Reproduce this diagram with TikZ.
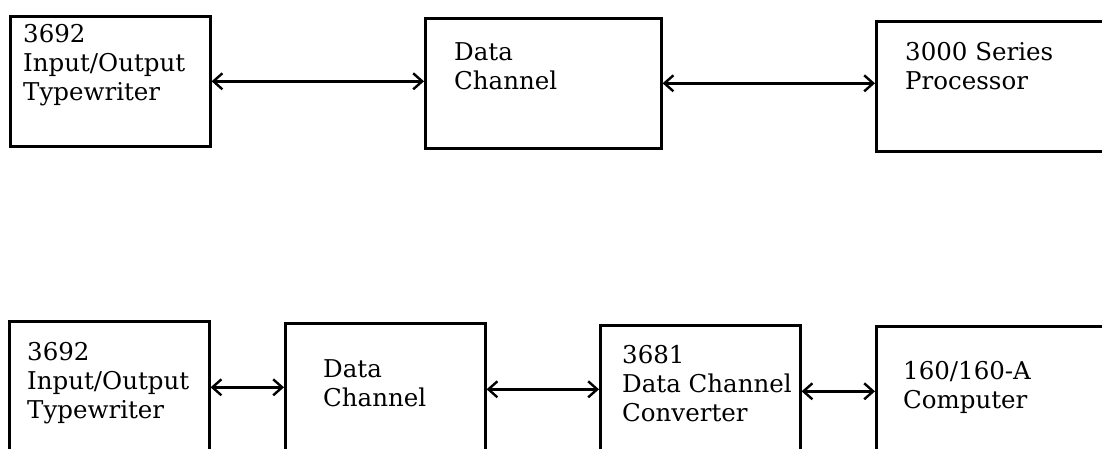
\documentclass[tikz,border=0pt]{standalone}
\usepackage{fontspec}
\setmainfont{DejaVu Serif}
\usetikzlibrary{arrows.meta, positioning}

\begin{document}
\begin{tikzpicture}[x=1pt, y=-1pt,
    blocco/.style={draw, line width=2.6pt, minimum width=200pt, minimum height=130pt, inner sep=0pt, anchor=north west},
    testo/.style={align=left, anchor=north west, inner sep=0pt, font=\fontsize{24.5}{29}\selectfont},
    freccia/.style={{Straight Barb[length=9pt,width=16pt]}-{Straight Barb[length=9pt,width=16pt]}, line width=2.4pt}]
    \useasboundingbox (0,0) rectangle (1102,448);
    \clip (0,0) rectangle (1102,448);
    % Riga superiore: blocchi
    \node[blocco] (tipoA) at (9,15) {};
    \node[blocco, minimum width=236pt] (canaleA) at (424,17) {};
    \node[blocco, minimum width=260pt] (proc) at (875,20) {};
    % Riga superiore: testi
    \node[testo] (tipoAt) at ([shift={(14pt,-9pt)}]tipoA.north west) {3692\\Input/Output\\Typewriter};
    \node[testo] (canaleAt) at ([shift={(30pt,-25pt)}]canaleA.north west) {Data\\Channel};
    \node[testo] (proct) at ([shift={(30pt,-22pt)}]proc.north west) {3000 Series\\Processor};
    % Riga superiore: frecce
    \draw[freccia] (tipoA.east) -- (tipoA.east -| canaleA.west);
    \draw[freccia] (canaleA.east) -- (canaleA.east -| proc.west);
    % Riga inferiore: blocchi
    \node[blocco, minimum height=132pt] (tipoB) at (8,320) {};
    \node[blocco, minimum height=132pt] (canaleB) at (284,322) {};
    \node[blocco, minimum height=132pt] (conv) at (599,324) {};
    \node[blocco, minimum height=132pt, minimum width=260pt] (comp) at (875,325) {};
    % Riga inferiore: testi
    \node[testo] (tipoBt) at ([shift={(19pt,-22pt)}]tipoB.north west) {3692\\Input/Output\\Typewriter};
    \node[testo] (canaleBt) at ([shift={(39pt,-37pt)}]canaleB.north west) {Data\\Channel};
    \node[testo] (convt) at ([shift={(23pt,-21pt)}]conv.north west) {3681\\Data Channel\\Converter};
    \node[testo] (compt) at ([shift={(28pt,-36pt)}]comp.north west) {160/160-A\\Computer};
    % Riga inferiore: frecce
    \draw[freccia] (tipoB.east) -- (tipoB.east -| canaleB.west);
    \draw[freccia] (canaleB.east) -- (canaleB.east -| conv.west);
    \draw[freccia] (conv.east) -- (conv.east -| comp.west);
\end{tikzpicture}
\end{document}
